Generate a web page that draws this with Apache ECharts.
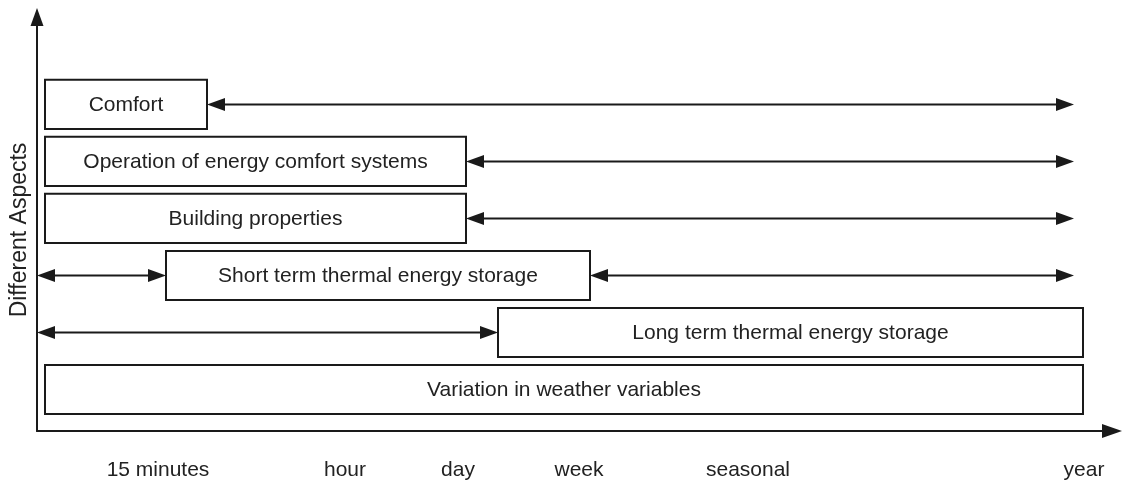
<!DOCTYPE html>
<html>
<head>
<meta charset="utf-8">
<script src="https://cdn.jsdelivr.net/npm/echarts@6/dist/echarts.min.js"></script>
<style>
  html, body { margin: 0; padding: 0; background: #fff; }
  #chart { width: 1122px; height: 483px; }
</style>
</head>
<body>
<div id="chart"></div>
<script>
// ---- data ----
const tickValues = [12.1, 30.8, 42.1, 54.2, 71.1, 104.7];
const tickLabels = ["15 minutes", "hour", "day", "week", "seasonal", "year"];

const aspectNames = ["Comfort", "Operation of energy comfort systems", "Building properties",
  "Short term thermal energy storage", "Long term thermal energy storage", "Variation in weather variables"];
const aspectLevel = [5, 4, 3, 2, 1, 0];
const boxStart = [0.8, 0.8, 0.8, 12.9, 46.1, 0.8];
const boxEnd = [17.0, 42.9, 42.9, 55.3, 104.6, 104.6];

const arrowLevel = [5, 4, 3, 2, 2, 1];
const arrowFrom = [17.0, 42.9, 42.9, 0, 55.3, 0];
const arrowTo = [103.7, 103.7, 103.7, 12.9, 103.7, 46.1];

const yTitle = "Different Aspects";

// ---- build ----
const FONT = "Liberation Sans, Arial, sans-serif";
const INK = "#1a1a1a";

const boxData = aspectNames.map((n, i) => [aspectLevel[i], boxStart[i], boxEnd[i], n]);
const arrowData = arrowLevel.map((l, i) => [l, arrowFrom[i], arrowTo[i]]);

function renderBox(params, api) {
  const lvl = api.value(0);
  const p0 = api.coord([api.value(1), lvl]);
  const p1 = api.coord([api.value(2), lvl]);
  const h = api.size([0, 0.86])[1];
  const name = boxData[params.dataIndex][3];
  return {
    type: 'group',
    children: [
      { type: 'rect', shape: { x: p0[0], y: p0[1] - h / 2, width: p1[0] - p0[0], height: h },
        style: { fill: '#fff', stroke: INK, lineWidth: 2 } },
      { type: 'text', style: { text: name, x: (p0[0] + p1[0]) / 2, y: p0[1] + 1,
        align: 'center', verticalAlign: 'middle', fill: '#222', font: '21px ' + FONT } }
    ]
  };
}

function renderArrow(params, api) {
  const lvl = api.value(0);
  const a = api.coord([api.value(1), lvl]);
  const b = api.coord([api.value(2), lvl]);
  const L = 18, W = 6.5;
  return {
    type: 'group',
    children: [
      { type: 'line', shape: { x1: a[0] + 4, y1: a[1], x2: b[0] - 4, y2: b[1] },
        style: { stroke: INK, lineWidth: 2 } },
      { type: 'polygon', shape: { points: [[a[0], a[1]], [a[0] + L, a[1] - W], [a[0] + L, a[1] + W]] },
        style: { fill: INK } },
      { type: 'polygon', shape: { points: [[b[0], b[1]], [b[0] - L, b[1] - W], [b[0] - L, b[1] + W]] },
        style: { fill: INK } }
    ]
  };
}

const chart = echarts.init(document.getElementById('chart'), null, { renderer: 'canvas' });
chart.setOption({
  backgroundColor: '#fff',
  animation: false,
  grid: { left: 37, right: 10, top: 17, bottom: 52 },
  xAxis: {
    type: 'value', min: 0, max: 107.5,
    axisLine: { show: true, onZero: false, symbol: ['none', 'triangle'], symbolSize: [14, 20],
      lineStyle: { color: INK, width: 2 } },
    axisTick: { show: false },
    splitLine: { show: false },
    axisLabel: {
      customValues: tickValues,
      margin: 29,
      color: '#222', fontSize: 21, fontFamily: FONT,
      formatter: function (v) {
        let best = 0;
        tickValues.forEach((t, i) => { if (Math.abs(t - v) < Math.abs(tickValues[best] - v)) best = i; });
        return tickLabels[best];
      }
    }
  },
  yAxis: {
    type: 'value', min: -0.73, max: 6.533,
    name: yTitle, nameLocation: 'middle', nameRotate: 90, nameGap: 6,
    nameTextStyle: { color: '#222', fontSize: 23, fontFamily: FONT, padding: [0, 12, 0, 0] },
    axisLine: { show: true, onZero: false, symbol: ['none', 'triangle'], symbolSize: [13, 18],
      lineStyle: { color: INK, width: 2 } },
    axisTick: { show: false },
    axisLabel: { show: false },
    splitLine: { show: false }
  },
  series: [
    { type: 'custom', renderItem: renderBox, data: boxData, encode: { x: [1, 2], y: 0 }, silent: true, z: 2 },
    { type: 'custom', renderItem: renderArrow, data: arrowData, encode: { x: [1, 2], y: 0 }, silent: true, z: 3 }
  ]
});
</script>
</body>
</html>
